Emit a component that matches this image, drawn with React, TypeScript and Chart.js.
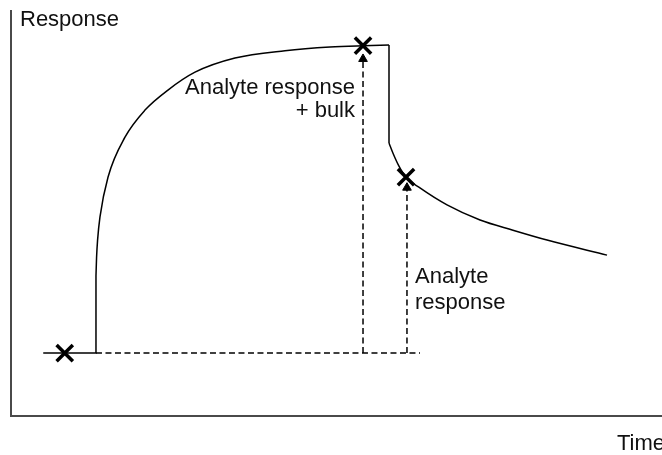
import React, { useEffect, useRef } from "react";
import { Chart, registerables } from "chart.js";

Chart.register(...registerables);

// Sensorgram (time in s, response in RU, relative to baseline)
const baselineTime = [-54, 0, 0];
const baselineResp = [0, 0, 25];
const assocTime = [0, 0.6, 1.6, 4.1, 12.3, 29.7, 50.2, 73.7, 101.4, 142.3, 193.5, 239.6, 273.4, 300];
const assocResp = [25, 31, 36.5, 44.2, 57.1, 70.1, 78.9, 85.4, 91.2, 95.8, 98.2, 99.4, 99.8, 100];
const dropTime = [300, 300];
const dropResp = [100, 68.2];
const dissocTime = [300, 304.1, 310.2, 317.4, 331.7, 359.4, 393.2, 426.9, 461.8, 523.2];
const dissocResp = [68.2, 64.9, 60.7, 57.1, 53.6, 48.1, 43.2, 39.9, 36.7, 31.8];

// Report points (X markers)
const markerTime = [-32, 273.4, 317.4];
const markerResp = [0, 99.8, 57.1];

// Reference (dashed) lines
const refBaseTime = [0, 331.7];
const refBaseResp = [0, 0];
const refBulkTime = [273.4, 273.4];
const refBulkResp = [0, 95.5];
const refAnalyteTime = [318.4, 318.4];
const refAnalyteResp = [0, 53.7];
const arrowTime = [273.4, 318.4];
const arrowResp = [95.5, 53.7];

// Annotation texts
const bulkLabelLines = ["Analyte response", "+ bulk"];
const bulkLabelTime = 265.2;
const bulkLabelResp = [84.1, 76.6];
const analyteLabelLines = ["Analyte", "response"];
const analyteLabelTime = 326.6;
const analyteLabelResp = [22.7, 14.3];
const yAxisTitle = "Response";
const xAxisTitle = "Time";

const pts = (xs: number[], ys: number[]) => xs.map((x, i) => ({ x, y: ys[i] }));

const FONT = "22px 'Liberation Sans', Arial, Helvetica, sans-serif";

const decorPlugin = {
  id: "decor",
  beforeDatasetsDraw(chart: any) {
    const { ctx, chartArea } = chart;
    ctx.save();
    ctx.strokeStyle = "#4a4a4a";
    ctx.lineWidth = 2;
    ctx.beginPath();
    ctx.moveTo(chartArea.left, chartArea.top);
    ctx.lineTo(chartArea.left, chartArea.bottom);
    ctx.lineTo(chartArea.right, chartArea.bottom);
    ctx.stroke();
    ctx.restore();
  },
  afterDraw(chart: any) {
    const { ctx, chartArea, scales } = chart;
    ctx.save();
    ctx.font = FONT;
    ctx.fillStyle = "#111";
    ctx.textBaseline = "alphabetic";
    ctx.textAlign = "left";
    ctx.fillText(yAxisTitle, chartArea.left + 9, chartArea.top + 16);
    ctx.fillText(xAxisTitle, chartArea.right - 45, chartArea.bottom + 34);
    ctx.textAlign = "right";
    bulkLabelLines.forEach((t, i) => {
      ctx.fillText(t, scales.x.getPixelForValue(bulkLabelTime), scales.y.getPixelForValue(bulkLabelResp[i]));
    });
    ctx.textAlign = "left";
    analyteLabelLines.forEach((t, i) => {
      ctx.fillText(t, scales.x.getPixelForValue(analyteLabelTime), scales.y.getPixelForValue(analyteLabelResp[i]));
    });
    ctx.restore();
  },
};

export default function App() {
  const ref = useRef<HTMLCanvasElement | null>(null);
  useEffect(() => {
    if (!ref.current) return;
    const curve = {
      showLine: true,
      borderColor: "#000",
      borderWidth: 1.5,
      pointRadius: 0,
      fill: false,
    };
    const dashed = {
      showLine: true,
      borderColor: "#000",
      borderWidth: 1.5,
      borderDash: [6, 3.5],
      pointRadius: 0,
      fill: false,
    };
    const chart = new Chart(ref.current, {
      type: "scatter",
      data: {
        datasets: [
          {
            data: pts(markerTime, markerResp),
            showLine: false,
            pointStyle: "crossRot",
            pointRadius: 11.5,
            borderColor: "#000",
            borderWidth: 3.5,
          },
          { ...curve, data: pts(baselineTime, baselineResp), tension: 0 },
          { ...curve, data: pts(assocTime, assocResp), cubicInterpolationMode: "monotone" },
          { ...curve, data: pts(dropTime, dropResp), tension: 0 },
          { ...curve, data: pts(dissocTime, dissocResp), cubicInterpolationMode: "monotone" },
          { ...dashed, data: pts(refBaseTime, refBaseResp) },
          { ...dashed, data: pts(refBulkTime, refBulkResp) },
          { ...dashed, data: pts(refAnalyteTime, refAnalyteResp) },
          {
            data: pts(arrowTime, arrowResp),
            showLine: false,
            pointStyle: "triangle",
            pointRadius: 5,
            backgroundColor: "#000",
            borderColor: "#000",
            borderWidth: 1,
          },
        ] as any,
      },
      options: {
        responsive: false,
        animation: false,
        events: [],
        layout: { autoPadding: false, padding: { left: 11, top: 10, right: 0, bottom: 39 } },
        plugins: { legend: { display: false }, tooltip: { enabled: false } },
        scales: {
          x: { type: "linear", display: false, min: -87, max: 579.5 },
          y: { type: "linear", display: false, min: -20.45, max: 111.4 },
        },
      } as any,
      plugins: [decorPlugin],
    });
    return () => chart.destroy();
  }, []);
  return (
    <div style={{ position: "absolute", left: 0, top: 0, width: 662, height: 455, background: "#fff" }}>
      <canvas ref={ref} width={662} height={455} style={{ display: "block" }} />
    </div>
  );
}
